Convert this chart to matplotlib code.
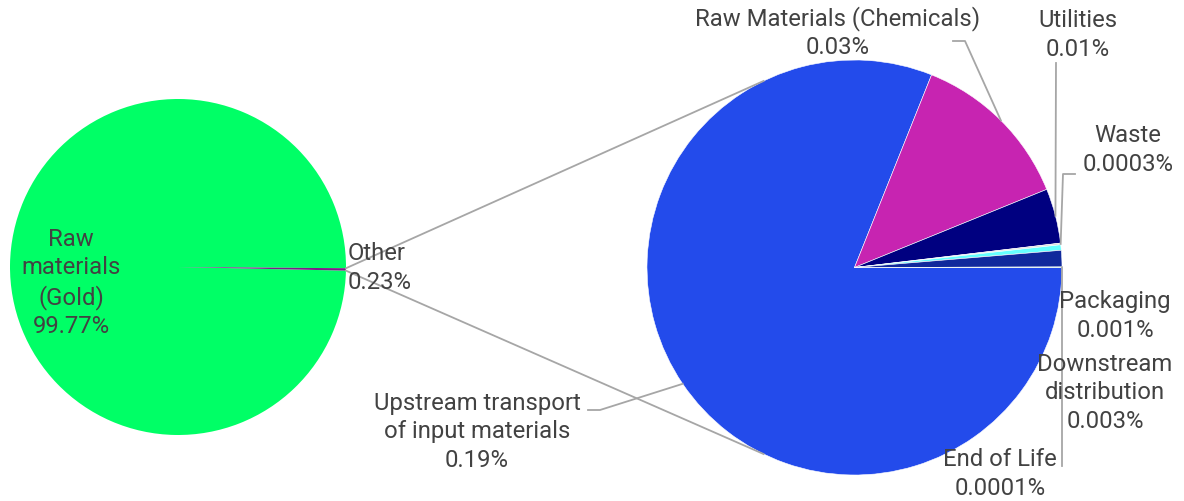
import numpy as np
import matplotlib.pyplot as plt

plt.rcParams["font.family"] = ["Roboto", "DejaVu Sans"]

W, H = 1184, 502
TEXT = "#424242"
LEADER = "#a6a6a6"
FS = 17.2
LS = 1.28

# main pie
main_labels = ["Raw\nmaterials\n(Gold)", "Other"]
main_values = [99.77, 0.23]
main_pct = ["99.77%", "0.23%"]
main_colors = ["#00ff66", "#7b1f88"]

# breakdown of "Other"
sub_labels = ["Upstream transport\nof input materials", "Raw Materials (Chemicals)",
              "Utilities", "Waste", "Packaging", "Downstream\ndistribution", "End of Life"]
sub_values = [0.19, 0.03, 0.01, 0.0003, 0.001, 0.003, 0.0001]
sub_pct = ["0.19%", "0.03%", "0.01%", "0.0003%", "0.001%", "0.003%", "0.0001%"]
sub_colors = ["#234beb", "#c724b1", "#000080", "#dcdcdc", "#66ffff", "#10299c", "#2fbf86"]


def px(x, y):
    """pixel position (origin top-left) -> data coords"""
    return x, H - y


fig = plt.figure(figsize=(W / 100, H / 100), dpi=100)
ax = fig.add_axes([0, 0, 1, 1])

# --- left pie ---------------------------------------------------------------
c1, r1 = px(178, 268), 168
other_frac = main_values[1] / sum(main_values)
w1, _ = ax.pie(main_values, colors=main_colors, center=c1, radius=r1,
               startangle=-other_frac * 180, counterclock=True,
               wedgeprops=dict(linewidth=0))

# --- right pie --------------------------------------------------------------
c2, r2 = px(854.5, 268.5), 207.5
w2, _ = ax.pie(sub_values, colors=sub_colors, center=c2, radius=r2,
               startangle=0, counterclock=False,
               wedgeprops=dict(linewidth=0.4, edgecolor="white"))

ax.set_xlim(0, W)
ax.set_ylim(0, H)
ax.set_aspect("auto")
ax.axis("off")


def on_circle(c, r, deg):
    t = np.radians(deg)
    return c[0] + r * np.cos(t), c[1] + r * np.sin(t)


# connector lines between the "Other" slice and the breakdown pie
other = w1[1]
for a_left, a_right in [(other.theta2, 116), (other.theta1, -116)]:
    p0 = on_circle(c1, r1, a_left)
    p1 = on_circle(c2, r2, a_right)
    ax.plot([p0[0], p1[0]], [p0[1], p1[1]], color=LEADER, lw=1.3, zorder=1)

# labels on the main pie
ax.text(*px(71, 283), f"{main_labels[0]}\n{main_pct[0]}", ha="center", va="center",
        fontsize=FS, color=TEXT, linespacing=LS)
ax.text(*px(348, 268), f"{main_labels[1]}\n{main_pct[1]}", ha="left", va="center",
        fontsize=FS, color=TEXT, linespacing=LS)

# breakdown labels: text centre and elbow points of the leader line (pixels)
sub_text_pos = [(477, 432), (838, 33), (1078, 35), (1128, 150),
                (1115, 316), (1105, 393), (1000, 474)]
sub_elbows = [[(588, 411), (600, 411)], [(953, 42), (965, 42)], [(1056, 64)],
              [(1075, 175), (1063, 175)], None, None, [(1062, 467)]]

for w, lab, pct, pos, elb in zip(w2, sub_labels, sub_pct, sub_text_pos, sub_elbows):
    if elb is not None:
        mid = (w.theta1 + w.theta2) / 2
        pts = [px(*p) for p in elb] + [on_circle(c2, r2, mid)]
        xs, ys = zip(*pts)
        ax.plot(xs, ys, color=LEADER, lw=1.3, zorder=1)
    ax.text(*px(*pos), f"{lab}\n{pct}", ha="center", va="center",
            fontsize=FS, color=TEXT, linespacing=LS, zorder=5)

fig.savefig("out.png", dpi=100)
